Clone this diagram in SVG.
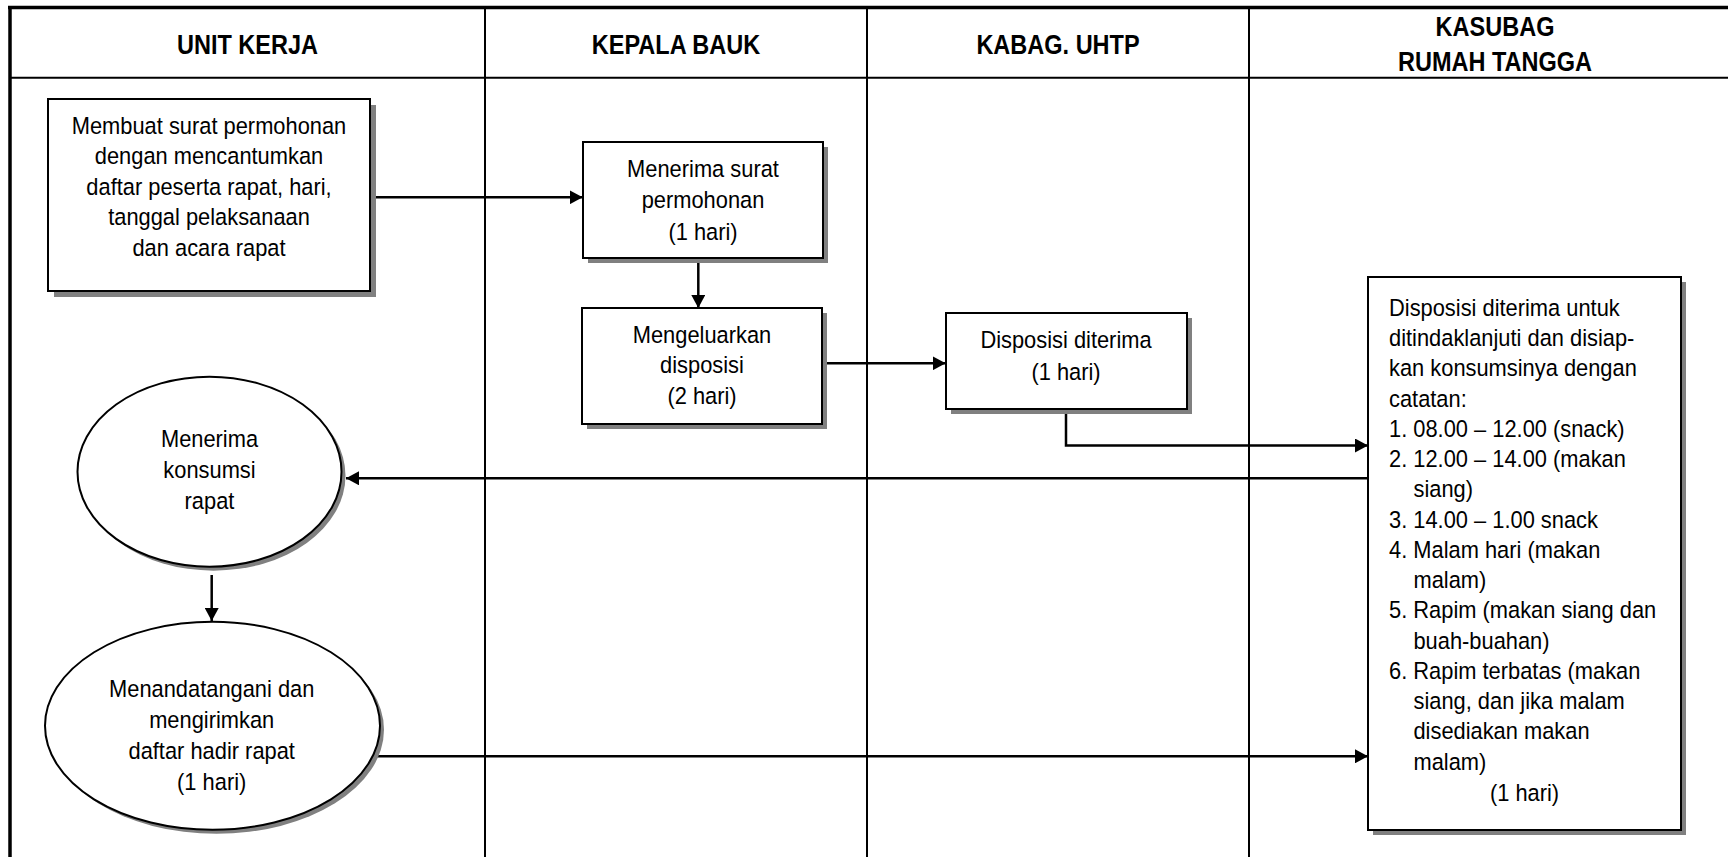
<svg xmlns="http://www.w3.org/2000/svg" width="1728" height="857" viewBox="0 0 1728 857">
  <style>
    .frame { stroke: #000; fill: none; }
    .lane { stroke: #000; stroke-width: 2; }
    .hdr { font-family: "Liberation Sans", Arial, sans-serif; font-weight: bold; font-size: 28px; fill: #000; text-anchor: middle; }
    .txt { font-family: "Liberation Sans", Arial, sans-serif; font-size: 23.5px; fill: #000; }
    .mid { text-anchor: middle; }
    .box { fill: #fff; stroke: #000; stroke-width: 2; }
    .shadow { fill: #808080; }
    .link { fill: none; stroke: #000; stroke-width: 2.5; }
  </style>
  <defs>
    <marker id="arrow" markerUnits="userSpaceOnUse" markerWidth="14" markerHeight="14" refX="13" refY="7" orient="auto">
      <path d="M0,0 L13,7 L0,14 Z" fill="#000"/>
    </marker>
  </defs>

  <rect width="1728" height="857" fill="#fff"/>

  <!-- swimlane table -->
  <g id="lanes">
    <line class="frame" x1="8" y1="7.5" x2="1728" y2="7.5" stroke-width="3.5"/>
    <line class="frame" x1="10" y1="6" x2="10" y2="857" stroke-width="3.5"/>
    <line class="lane" x1="10" y1="77.7" x2="1728" y2="77.7"/>
    <line class="lane" x1="485" y1="7" x2="485" y2="857"/>
    <line class="lane" x1="867" y1="7" x2="867" y2="857"/>
    <line class="lane" x1="1249" y1="7" x2="1249" y2="857"/>
  </g>

  <!-- lane titles, set in a condensed bold -->
  <g id="headers">
    <text class="hdr" transform="translate(247.5,53.5) scale(0.84,1)">UNIT KERJA</text>
    <text class="hdr" transform="translate(676,53.5) scale(0.84,1)">KEPALA BAUK</text>
    <text class="hdr" transform="translate(1058,53.5) scale(0.84,1)">KABAG. UHTP</text>
    <text class="hdr" transform="translate(1495,36) scale(0.84,1)">KASUBAG</text>
    <text class="hdr" transform="translate(1495,71) scale(0.84,1)">RUMAH TANGGA</text>
  </g>

  <!-- connectors -->
  <g id="connectors">
    <path class="link" d="M370,197.3 H582.7" marker-end="url(#arrow)"/>
    <path class="link" d="M698.3,258 V308" marker-end="url(#arrow)"/>
    <path class="link" d="M827,363.3 H945.7" marker-end="url(#arrow)"/>
    <path class="link" d="M1066,409 V445.5 H1368" marker-end="url(#arrow)"/>
    <path class="link" d="M1368,478.3 H346" marker-end="url(#arrow)"/>
    <path class="link" d="M211.7,575 V621" marker-end="url(#arrow)"/>
    <path class="link" d="M377,756.3 H1368" marker-end="url(#arrow)"/>
  </g>

  <!-- Unit Kerja -->
  <g id="buat-surat">
    <rect class="shadow" x="54" y="105" width="322" height="192"/>
    <rect class="box" x="48" y="99" width="322" height="192"/>
    <g transform="translate(209,0) scale(0.93,1)">
      <text class="txt mid" x="0" y="134">Membuat surat permohonan</text>
      <text class="txt mid" x="0" y="164.5">dengan mencantumkan</text>
      <text class="txt mid" x="0" y="195">daftar peserta rapat, hari,</text>
      <text class="txt mid" x="0" y="225.5">tanggal pelaksanaan</text>
      <text class="txt mid" x="0" y="256">dan acara rapat</text>
    </g>
  </g>

  <g id="terima-konsumsi">
    <ellipse class="shadow" cx="213.5" cy="475.7" rx="132" ry="95"/>
    <ellipse class="box" cx="209.5" cy="471.7" rx="132" ry="95"/>
    <g transform="translate(209.5,0) scale(0.93,1)">
      <text class="txt mid" x="0" y="447">Menerima</text>
      <text class="txt mid" x="0" y="478">konsumsi</text>
      <text class="txt mid" x="0" y="509">rapat</text>
    </g>
  </g>

  <g id="tanda-tangan">
    <ellipse class="shadow" cx="216.5" cy="729.8" rx="167.5" ry="104"/>
    <ellipse class="box" cx="212.5" cy="725.8" rx="167.5" ry="104"/>
    <g transform="translate(211.7,0) scale(0.93,1)">
      <text class="txt mid" x="0" y="697">Menandatangani dan</text>
      <text class="txt mid" x="0" y="728">mengirimkan</text>
      <text class="txt mid" x="0" y="759">daftar hadir rapat</text>
      <text class="txt mid" x="0" y="790">(1 hari)</text>
    </g>
  </g>

  <!-- Kepala BAUK -->
  <g id="terima-surat">
    <rect class="shadow" x="588" y="147" width="240" height="116"/>
    <rect class="box" x="583" y="142" width="240" height="116"/>
    <g transform="translate(703,0) scale(0.93,1)">
      <text class="txt mid" x="0" y="177.5">Menerima surat</text>
      <text class="txt mid" x="0" y="208.5">permohonan</text>
      <text class="txt mid" x="0" y="240">(1 hari)</text>
    </g>
  </g>

  <g id="keluarkan-disposisi">
    <rect class="shadow" x="587" y="313" width="240" height="116"/>
    <rect class="box" x="582" y="308" width="240" height="116"/>
    <g transform="translate(702,0) scale(0.93,1)">
      <text class="txt mid" x="0" y="342.7">Mengeluarkan</text>
      <text class="txt mid" x="0" y="373.3">disposisi</text>
      <text class="txt mid" x="0" y="404">(2 hari)</text>
    </g>
  </g>

  <!-- Kabag. UHTP -->
  <g id="disposisi-diterima">
    <rect class="shadow" x="951" y="318" width="241" height="96"/>
    <rect class="box" x="946" y="313" width="241" height="96"/>
    <g transform="translate(1066,0) scale(0.93,1)">
      <text class="txt mid" x="0" y="348">Disposisi diterima</text>
      <text class="txt mid" x="0" y="380">(1 hari)</text>
    </g>
  </g>

  <!-- Kasubag Rumah Tangga -->
  <g id="siapkan-konsumsi">
    <rect class="shadow" x="1373" y="282" width="313" height="553"/>
    <rect class="box" x="1368" y="277" width="313" height="553"/>
    <g transform="translate(1389,0) scale(0.93,1)">
      <text class="txt" x="0" y="316">Disposisi diterima untuk</text>
      <text class="txt" x="0" y="346.25">ditindaklanjuti dan disiap-</text>
      <text class="txt" x="0" y="376.5">kan konsumsinya dengan</text>
      <text class="txt" x="0" y="406.75">catatan:</text>
      <text class="txt" x="0" y="437">1. 08.00 – 12.00 (snack)</text>
      <text class="txt" x="0" y="467.25">2. 12.00 – 14.00 (makan</text>
      <text class="txt" x="26.3" y="497.5">siang)</text>
      <text class="txt" x="0" y="527.75">3. 14.00 – 1.00 snack</text>
      <text class="txt" x="0" y="558">4. Malam hari (makan</text>
      <text class="txt" x="26.3" y="588.25">malam)</text>
      <text class="txt" x="0" y="618.5">5. Rapim (makan siang dan</text>
      <text class="txt" x="26.3" y="648.75">buah-buahan)</text>
      <text class="txt" x="0" y="679">6. Rapim terbatas (makan</text>
      <text class="txt" x="26.3" y="709.25">siang, dan jika malam</text>
      <text class="txt" x="26.3" y="739.5">disediakan makan</text>
      <text class="txt" x="26.3" y="769.75">malam)</text>
      <text class="txt mid" x="145.7" y="801">(1 hari)</text>
    </g>
  </g>
</svg>
